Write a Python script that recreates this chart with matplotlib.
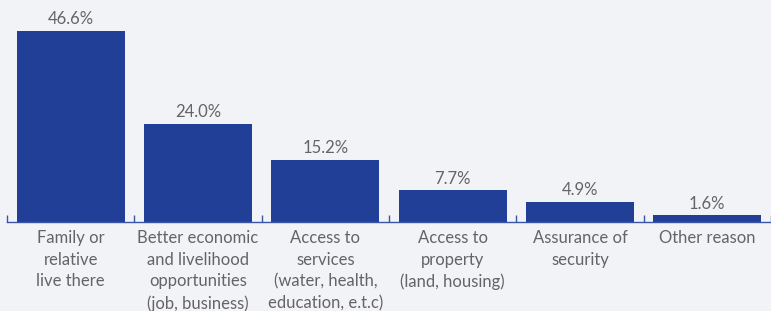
import matplotlib.pyplot as plt
import numpy as np

# Dados
categorias = [
    "Family or\nrelative\nlive there",
    "Better economic\nand livelihood\nopportunities\n(job, business)",
    "Access to\nservices\n(water, health,\neducation, e.t.c)",
    "Access to\nproperty\n(land, housing)",
    "Assurance of\nsecurity",
    "Other reason",
]
valores = [46.6, 24.0, 15.2, 7.7, 4.9, 1.6]

fundo = "#f2f3f6"
azul = "#223f98"
cinza = "#646464"

fig = plt.figure(figsize=(7.71, 3.11), dpi=100, facecolor=fundo)
ax = fig.add_axes([7 / 771, 89 / 311, 764 / 771, 222 / 311], facecolor=fundo)

x = np.arange(len(valores))
ax.bar(x, valores, width=0.85, color=azul)

for xi, v in zip(x, valores):
    ax.text(xi, v + 0.9, f"{v:.1f}%", ha="center", va="bottom",
            fontsize=12, color=cinza, family="Lato")

ax.set_xlim(-0.5, len(valores) - 0.5)
ax.set_ylim(0, 54.1)

for s in ["top", "right", "left"]:
    ax.spines[s].set_visible(False)
ax.spines["bottom"].set_color("#3a55a8")
ax.spines["bottom"].set_linewidth(1.0)

ax.set_yticks([])
ax.set_xticks(np.arange(len(valores) + 1) - 0.5, minor=True)
ax.tick_params(axis="x", which="minor", direction="in", length=5,
               color="#3a55a8", width=1)
ax.set_xticks(x)
ax.set_xticklabels(categorias, fontsize=12, color=cinza, family="Lato",
                   linespacing=1.42, va="top")
ax.tick_params(axis="x", which="major", length=0, pad=6)

fig.savefig("out.png", dpi=100, facecolor=fundo)
